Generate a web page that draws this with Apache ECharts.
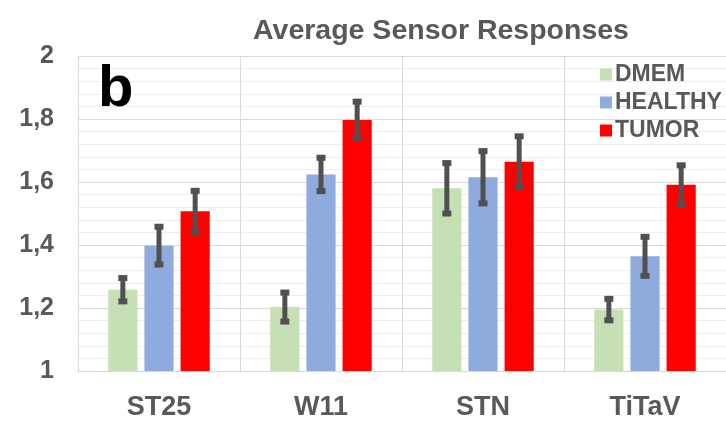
<!DOCTYPE html>
<html>
<head>
<meta charset="utf-8">
<script src="https://cdn.jsdelivr.net/npm/echarts@6/dist/echarts.min.js"></script>
<style>
html,body{margin:0;padding:0;background:#fff;}
#chart{width:726px;height:421px;}
</style>
</head>
<body>
<div id="chart"></div>
<script>
const categories = ['ST25', 'W11', 'STN', 'TiTaV'];
const seriesNames = ['DMEM', 'HEALTHY', 'TUMOR'];
const dmemValues = [1.258, 1.203, 1.580, 1.195];
const healthyValues = [1.398, 1.624, 1.615, 1.364];
const tumorValues = [1.507, 1.797, 1.664, 1.591];
const dmemErrors = [0.037, 0.046, 0.080, 0.034];
const healthyErrors = [0.060, 0.053, 0.083, 0.062];
const tumorErrors = [0.065, 0.058, 0.081, 0.062];
const yTicks = [1, 1.2, 1.4, 1.6, 1.8, 2];

const colors = ['#c5e0b4', '#8faadc', '#ff0000'];
const textGray = '#595959';
const font = 'Liberation Sans, Arial, sans-serif';
const barWidthFrac = 0.18;
const barGapFrac = 0.24;
const step = barWidthFrac * (1 + barGapFrac);

const valueSets = [dmemValues, healthyValues, tumorValues];
const errorSets = [dmemErrors, healthyErrors, tumorErrors];

const barSeries = seriesNames.map((name, i) => ({
  name: name,
  type: 'bar',
  data: valueSets[i],
  barWidth: (barWidthFrac * 100) + '%',
  barGap: (barGapFrac * 100) + '%',
  itemStyle: { color: colors[i] },
  z: 2
}));

const errSeries = seriesNames.map((name, i) => ({
  name: name + '_err',
  type: 'custom',
  data: categories.map((c, k) => [k, valueSets[i][k] - errorSets[i][k], valueSets[i][k] + errorSets[i][k]]),
  z: 5,
  silent: true,
  renderItem: function (params, api) {
    const bw = api.size([1, 0])[0];
    const offset = (i - 1) * step * bw;
    const lo = api.coord([api.value(0), api.value(1)]);
    const hi = api.coord([api.value(0), api.value(2)]);
    const x = lo[0] + offset;
    const capW = 9, capH = 6;
    const st = { fill: '#505050' };
    return {
      type: 'group',
      children: [
        { type: 'line', shape: { x1: x, y1: lo[1], x2: x, y2: hi[1] }, style: { stroke: '#505050', lineWidth: 5 } },
        { type: 'rect', shape: { x: x - capW / 2, y: hi[1] - capH / 2, width: capW, height: capH }, style: st },
        { type: 'rect', shape: { x: x - capW / 2, y: lo[1] - capH / 2, width: capW, height: capH }, style: st }
      ]
    };
  }
}));

const chart = echarts.init(document.getElementById('chart'));
chart.setOption({
  animation: false,
  backgroundColor: '#fff',
  title: {
    text: 'Average Sensor Responses',
    left: 436,
    top: 12,
    textAlign: 'center',
    textStyle: { color: textGray, fontFamily: font, fontWeight: 'bold', fontSize: 28.5 }
  },
  legend: {
    data: seriesNames,
    orient: 'vertical',
    left: 595,
    top: 58,
    icon: 'rect',
    itemWidth: 12,
    itemHeight: 12,
    itemGap: 5,
    textStyle: { color: textGray, fontFamily: font, fontWeight: 'bold', fontSize: 23, padding: [0, 0, 0, -2] }
  },
  graphic: [{
    type: 'text',
    left: 98,
    top: 61,
    z: 10,
    style: { text: 'b', fill: '#000', fontFamily: font, fontWeight: 'bold', fontSize: 58 }
  }],
  grid: { left: 78, top: 56, width: 652, height: 321 },
  xAxis: {
    type: 'category',
    data: categories,
    axisLine: { show: true, lineStyle: { color: '#d9d9d9', width: 1 } },
    axisTick: { show: false },
    splitLine: { show: true, lineStyle: { color: '#d9d9d9', width: 1 } },
    axisLabel: { color: textGray, fontFamily: font, fontWeight: 'bold', fontSize: 27, margin: 23 }
  },
  yAxis: {
    type: 'value',
    min: yTicks[0],
    max: yTicks[yTicks.length - 1],
    interval: 0.2,
    axisLine: { show: true, lineStyle: { color: '#d9d9d9', width: 1 } },
    axisTick: { show: false },
    splitLine: { show: true, lineStyle: { color: '#d9d9d9', width: 1 } },
    minorTick: { show: false, splitNumber: 5 },
    minorSplitLine: { show: true, lineStyle: { color: '#ededed', width: 1 } },
    axisLabel: {
      color: textGray, fontFamily: font, fontWeight: 'bold', fontSize: 25, margin: 24,
      formatter: v => String(Math.round(v * 10) / 10).replace('.', ',')
    }
  },
  series: barSeries.concat(errSeries)
});
</script>
</body>
</html>
